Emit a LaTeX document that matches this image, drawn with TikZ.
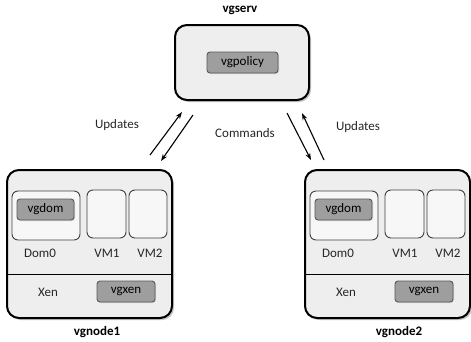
\documentclass[tikz,border=0pt]{standalone}
\usepackage{fontspec}
\setmainfont{Carlito}
\usetikzlibrary{arrows.meta,shadows}

\tikzset{
  hostbox/.style={draw=black, line width=2pt, rounded corners=12pt, fill=gray!13,
    drop shadow={shadow xshift=2pt, shadow yshift=-2pt, fill=black!45, opacity=0.5}},
  guestbox/.style={draw=black!75, line width=0.9pt, rounded corners=6pt, fill=gray!6},
  agent/.style={draw=black!65, line width=0.9pt, rounded corners=3pt, fill=black!38,
    font=\fontsize{13}{15}\selectfont, inner sep=0pt,
    drop shadow={shadow xshift=1pt, shadow yshift=-1pt, fill=black!30, opacity=0.5}},
  lbl/.style={font=\fontsize{13}{15}\selectfont, text=black!85},
  title/.style={font=\bfseries\fontsize{13}{15}\selectfont},
  msg/.style={line width=1.1pt, -{Stealth[length=7pt,width=5pt]}}
}

\begin{document}
\begin{tikzpicture}[x=1pt, y=-1pt]
  \useasboundingbox (0,0) rectangle (471,341);

  % vgserv
  \node [title] at (240,10) (servname) {vgserv};
  \node [hostbox, minimum width=134pt, minimum height=75pt] at (242,62.5) (serv) {};
  \node [agent, minimum width=71pt, minimum height=21pt] at (242.5,62.5) (policy) {vgpolicy};

  % the two nodes
  \foreach \n/\dx/\tx in {1/0/97, 2/298/399} {
    \begin{scope}[xshift=\dx pt]
      \node [hostbox, minimum width=165pt, minimum height=148pt] at (89.5,244) (host\n) {};
      \draw [line width=0.9pt] (host\n.west |- 0,274) -- (host\n.east |- 0,274);
      \node [guestbox, minimum width=68pt, minimum height=49pt] at (46,215.5) (dom\n) {};
      \node [agent, minimum width=57pt, minimum height=21pt] at (45.5,209.5) (vgdom\n) {vgdom};
      \node [guestbox, minimum width=39pt, minimum height=48pt] at (106.5,214) (vma\n) {};
      \node [guestbox, minimum width=38pt, minimum height=48pt] at (148,214) (vmb\n) {};
      \node [lbl] at (40,253) (domlbl\n) {Dom0};
      \node [lbl] at (107,253) (vmalbl\n) {VM1};
      \node [lbl] at (150,253) (vmblbl\n) {VM2};
      \node [lbl] at (48,292) (xen\n) {Xen};
      \node [agent, minimum width=58pt, minimum height=21pt] at (126,291.5) (vgxen\n) {vgxen};
    \end{scope}
    \node [title] at (\tx,332) (hostname\n) {vgnode\n};
  }

  % messages
  \coordinate (lup0) at (150,155);
  \coordinate (lup1) at (182,112);
  \coordinate (ldn0) at (193,115);
  \coordinate (ldn1) at (161,161);
  \coordinate (rdn0) at (287,113);
  \coordinate (rdn1) at (311,160);
  \coordinate (rup0) at (324,160);
  \coordinate (rup1) at (302,113);
  \draw [msg] (lup0) -- (lup1);
  \draw [msg] (ldn0) -- (ldn1);
  \draw [msg] (rdn0) -- (rdn1);
  \draw [msg] (rup0) -- (rup1);

  \node [lbl] at (117,125) (updl) {Updates};
  \node [lbl] at (245,133) (cmds) {Commands};
  \node [lbl] at (358,127) (updr) {Updates};
\end{tikzpicture}
\end{document}
